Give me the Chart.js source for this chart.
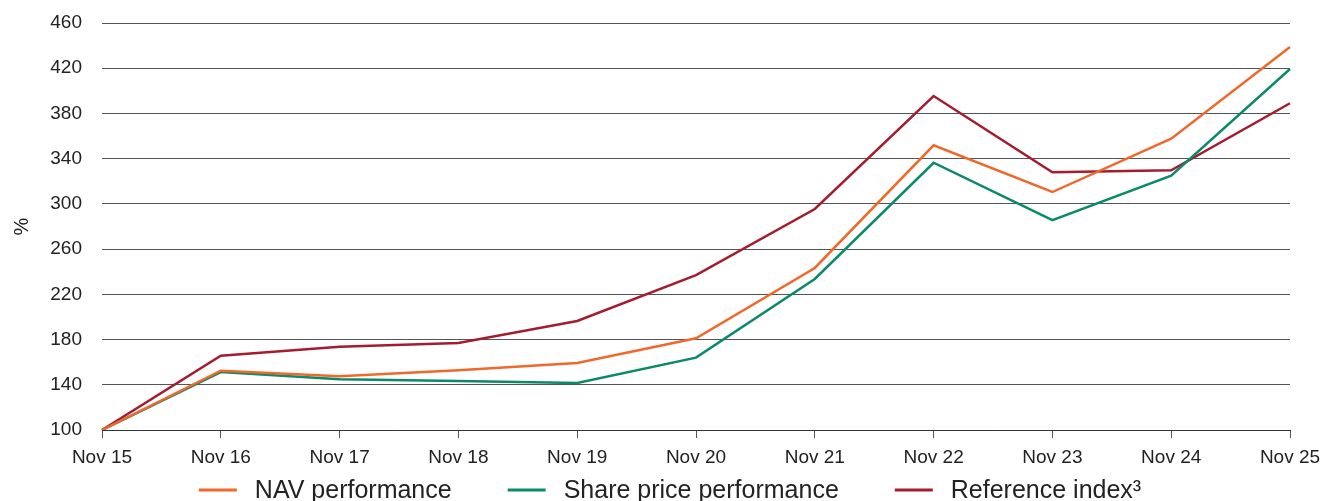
<!DOCTYPE html>
<html>
<head>
<meta charset="utf-8">
<title>Performance</title>
<script src="https://cdn.jsdelivr.net/npm/chart.js@4.4.1/dist/chart.umd.min.js"></script>
<style>
  html, body { margin: 0; padding: 0; background: #fff; }
  #wrap { width: 1322px; height: 501px; position: relative; }
</style>
</head>
<body>
<div id="wrap"><canvas id="myChart"></canvas></div>
<script>
// Categories and series (indexed, Nov 15 = 100)
const periods = ["Nov 15", "Nov 16", "Nov 17", "Nov 18", "Nov 19", "Nov 20", "Nov 21", "Nov 22", "Nov 23", "Nov 24", "Nov 25"];
const navPerformance = [100, 152.5, 147.5, 152.8, 159.3, 181.1, 243.3, 351.8, 310.5, 357.7, 438.8];
const sharePricePerformance = [100, 151.3, 144.8, 143.3, 141.6, 164.0, 233.6, 336.4, 285.7, 324.9, 419.3];
const referenceIndex = [100, 165.7, 173.7, 177.0, 196.4, 237.0, 295.5, 395.4, 328.0, 329.7, 389.0];
const yTicks = [100, 140, 180, 220, 260, 300, 340, 380, 420, 460];

const FONT = "'Liberation Sans', Arial, sans-serif";
const TEXT = "#222222";

// legend drawn under the axis: short line + label, centred
const bottomLegend = {
  id: "bottomLegend",
  afterDraw(chart) {
    const ctx = chart.ctx;
    const sets = chart.data.datasets;
    ctx.save();
    ctx.font = "25px " + FONT;
    ctx.textBaseline = "middle";
    const lineLen = 38, textGap = 18, itemGap = 56;
    const widths = sets.map(d => lineLen + textGap + ctx.measureText(d.label).width);
    const total = widths.reduce((a, b) => a + b, 0) + itemGap * (sets.length - 1);
    let x = (chart.width - total) / 2 + 9;
    const y = chart.height - 11;
    sets.forEach((d, i) => {
      ctx.strokeStyle = d.borderColor;
      ctx.lineWidth = 3;
      ctx.beginPath();
      ctx.moveTo(x, y);
      ctx.lineTo(x + lineLen, y);
      ctx.stroke();
      ctx.fillStyle = TEXT;
      ctx.fillText(d.label, x + lineLen + textGap, y + 1);
      x += widths[i] + itemGap;
    });
    ctx.restore();
  }
};

const context = document.getElementById("myChart").getContext("2d");

const myChart = new Chart(context, {
  type: "line",
  data: {
    labels: periods,
    datasets: [
      { label: "NAV performance", data: navPerformance, borderColor: "#F0692B", backgroundColor: "#F0692B" },
      { label: "Share price performance", data: sharePricePerformance, borderColor: "#0A8A69", backgroundColor: "#0A8A69" },
      { label: "Reference index\u00B3", data: referenceIndex, borderColor: "#A51C30", backgroundColor: "#A51C30" }
    ]
  },
  options: {
    responsive: true,
    maintainAspectRatio: false,
    animation: false,
    layout: { padding: { top: 23, right: 0, bottom: 31, left: 0 } },
    elements: {
      line: { borderWidth: 2.5, tension: 0 },
      point: { radius: 0, hoverRadius: 0 }
    },
    plugins: {
      legend: { display: false },
      tooltip: { enabled: false }
    },
    scales: {
      x: {
        offset: false,
        grid: { drawOnChartArea: false, drawTicks: true, tickLength: 8, color: "#555", lineWidth: 1 },
        border: { display: true, color: "#333", width: 1 },
        ticks: { color: TEXT, font: { family: FONT, size: 19 }, padding: 8, maxRotation: 0, autoSkip: false },
        afterFit(scale) { scale.height = 40; scale.paddingRight = 32; }
      },
      y: {
        min: 100,
        max: 460,
        afterBuildTicks(scale) { scale.ticks = yTicks.map(v => ({ value: v })); },
        grid: { drawTicks: false, color: "#555", lineWidth: 1 },
        border: { display: false },
        ticks: { color: TEXT, font: { family: FONT, size: 19 }, padding: 20 },
        title: { display: true, text: "%", color: TEXT, font: { family: FONT, size: 20 }, padding: { top: 10, bottom: 0 } },
        afterFit(scale) { scale.width = 102; scale.paddingTop = 0; scale.paddingBottom = 0; }
      }
    }
  },
  plugins: [bottomLegend]
});
</script>
</body>
</html>
